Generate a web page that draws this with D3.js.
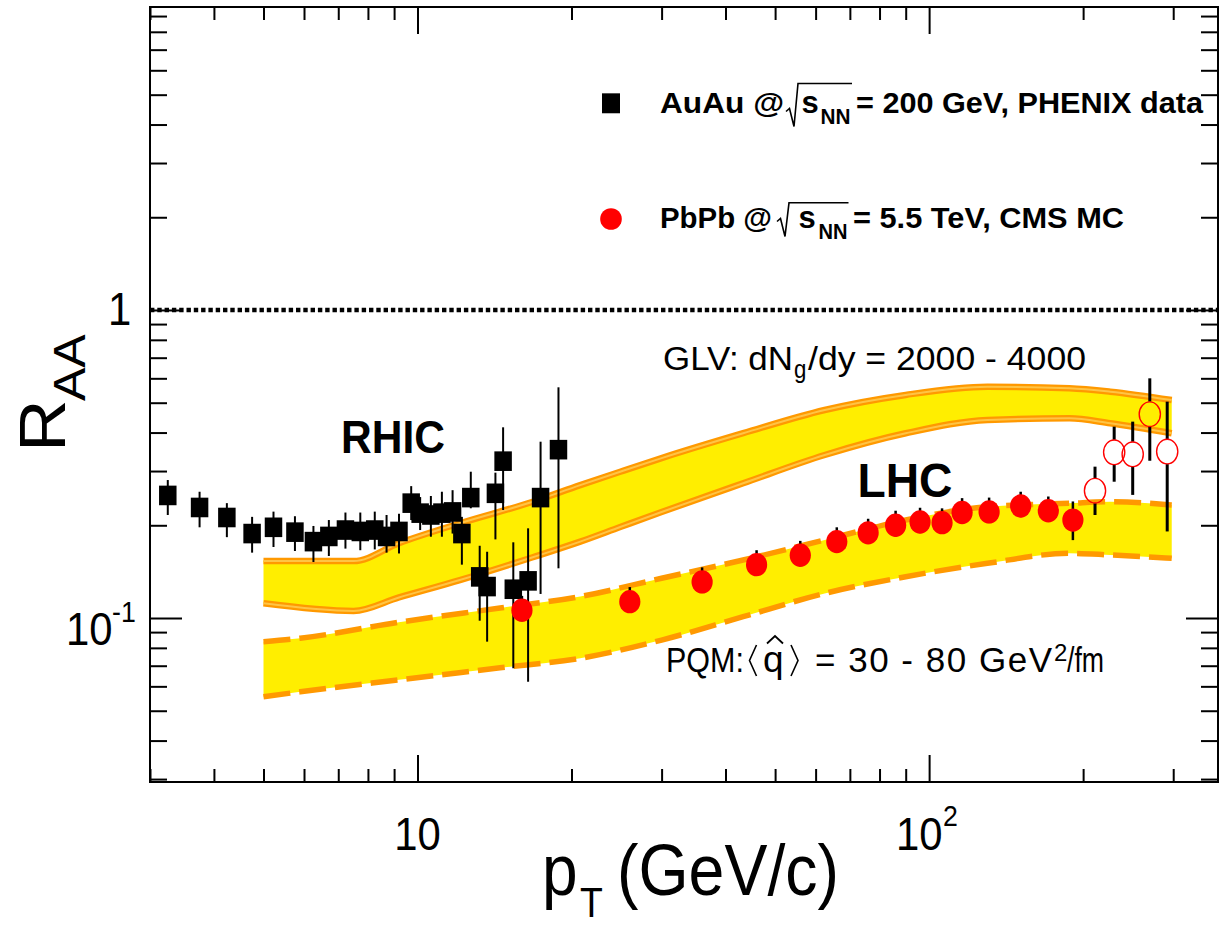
<!DOCTYPE html>
<html>
<head>
<meta charset="utf-8">
<script src="https://cdn.jsdelivr.net/npm/d3@7"></script>
<style>
  html, body { margin: 0; padding: 0; background: #fff; }
  svg { display: block; }
  text { font-family: "Liberation Sans", Arial, Helvetica, sans-serif; fill: #000; }
</style>
</head>
<body>
<svg id="chart" width="1220" height="927"></svg>
<script>
// ---- axis ranges and ticks ----
const xDomain = [3, 367];
const yDomain = [0.02935, 9.63];
const xMajorTicks = [10, 100];
const xMinorTicks = [3, 4, 5, 6, 7, 8, 9, 20, 30, 40, 50, 60, 70, 80, 90, 200, 300];
const yMajorTicks = [0.1, 1];
const yMinorTicks = [0.03, 0.04, 0.05, 0.06, 0.07, 0.08, 0.09,
                     0.2, 0.3, 0.4, 0.5, 0.6, 0.7, 0.8, 0.9,
                     2, 3, 4, 5, 6, 7, 8, 9];

// ---- PHENIX AuAu 200 GeV data (pT, R_AA, error band low/high) ----
const phenixPt  = [3.25, 3.75, 4.24, 4.75, 5.23, 5.76, 6.26, 6.71, 7.23, 7.73, 8.25, 8.70, 9.20, 9.72,
                   10.12, 10.62, 11.16, 11.71, 12.21, 12.71, 13.23, 13.68, 14.2, 14.7, 15.39, 16.45, 17.4, 18.86];
const phenixRaa = [0.250, 0.2285, 0.212, 0.188, 0.197, 0.190, 0.177, 0.184, 0.193, 0.191, 0.193, 0.184, 0.191, 0.236,
                   0.219, 0.216, 0.219, 0.221, 0.188, 0.246, 0.136, 0.1265, 0.254, 0.323, 0.124, 0.132, 0.246, 0.352];
const phenixHi  = [0.2805, 0.257, 0.236, 0.213, 0.2215, 0.214, 0.199, 0.208, 0.220, 0.220, 0.2215, 0.216, 0.218, 0.268,
                   0.247, 0.249, 0.257, 0.260, 0.213, 0.2985, 0.1716, 0.1641, 0.2964, 0.416, 0.1761, 0.1955, 0.3736, 0.561];
const phenixLo  = [0.216, 0.197, 0.183, 0.163, 0.170, 0.165, 0.152, 0.159, 0.168, 0.166, 0.167, 0.163, 0.162, 0.208,
                   0.193, 0.1836, 0.1836, 0.188, 0.149, 0.2271, 0.098, 0.0838, 0.180, 0.2242, 0.0687, 0.0621, 0.1197, 0.145];

// ---- CMS PbPb 5.5 TeV MC, filled points ----
const cmsPt  = [16, 26, 36, 46, 56, 66, 76, 86, 96, 106, 116, 131, 151, 171, 191];
const cmsRaa = [0.106, 0.113, 0.131, 0.149, 0.160, 0.177, 0.189, 0.200, 0.205, 0.204, 0.220, 0.221, 0.231, 0.223, 0.208];
const cmsHi  = [0.118, 0.126, 0.146, 0.166, 0.178, 0.197, 0.210, 0.223, 0.228, 0.227, 0.245, 0.246, 0.257, 0.248, 0.239];
const cmsLo  = [0.0975, 0.104, 0.1205, 0.137, 0.147, 0.163, 0.174, 0.184, 0.1886, 0.1877, 0.2024, 0.2033, 0.2125, 0.205, 0.179];

// ---- CMS PbPb 5.5 TeV MC, open points (high pT) ----
const cmsOpenPt  = [211, 230, 250, 270, 292];
const cmsOpenRaa = [0.259, 0.345, 0.340, 0.459, 0.347];
const cmsOpenHi  = [0.310, 0.418, 0.434, 0.600, 0.504];
const cmsOpenLo  = [0.216, 0.277, 0.251, 0.324, 0.191];

// ---- GLV band, dNg/dy = 2000 - 4000 ----
const glvPt   = [5, 7.5, 9.2, 12.1, 16.8, 20.8, 24.9, 30, 43.3, 62.5, 90, 130, 188, 226, 298];
const glvHigh = [0.153, 0.153, 0.175, 0.203, 0.2385, 0.270, 0.2985, 0.3305, 0.398, 0.4735, 0.530, 0.5636, 0.557, 0.543, 0.510];
const glvLow  = [0.1116, 0.1054, 0.1166, 0.1328, 0.1575, 0.1770, 0.1974, 0.2209, 0.2738, 0.3382, 0.3978, 0.4395, 0.4451, 0.4287, 0.3978];

// ---- PQM band, <qhat> = 30 - 80 GeV^2/fm ----
const pqmPt   = [5, 5.9, 9.2, 14.5, 20.8, 30, 43.3, 62.5, 90, 130, 188, 226, 298];
const pqmHigh = [0.0838, 0.0860, 0.0969, 0.1078, 0.1174, 0.1346, 0.1543, 0.1792, 0.2080, 0.2298, 0.2357, 0.2385, 0.2327];
const pqmLow  = [0.0555, 0.0576, 0.0630, 0.0689, 0.0740, 0.0848, 0.1010, 0.1202, 0.1362, 0.1505, 0.1622, 0.1602, 0.1563];

// ---- layout ----
const frame = { left: 150, right: 1218, top: 7, bottom: 782 };
const SX = 0.89;               // horizontal squeeze of glyphs and markers
const YELLOW = "#ffee00", ORANGE = "#ff9900", ORANGE_LIGHT = "#ffc444";

const svg = d3.select("#chart");
const x = d3.scaleLog().domain(xDomain).range([frame.left, frame.right]);
const y = d3.scaleLog().domain(yDomain).range([frame.bottom, frame.top]);

// ---- theory bands ----
function band(pt, lo, hi) {
  const idx = d3.range(pt.length);
  return {
    area: d3.area().curve(d3.curveMonotoneX)
      .x(i => x(pt[i])).y0(i => y(lo[i])).y1(i => y(hi[i]))(idx),
    upper: d3.line().curve(d3.curveMonotoneX).x(i => x(pt[i])).y(i => y(hi[i]))(idx),
    lower: d3.line().curve(d3.curveMonotoneX).x(i => x(pt[i])).y(i => y(lo[i]))(idx)
  };
}
const glv = band(glvPt, glvLow, glvHigh);
const pqm = band(pqmPt, pqmLow, pqmHigh);

const gBands = svg.append("g");
gBands.append("path").attr("d", glv.area).attr("fill", YELLOW);
[glv.upper, glv.lower].forEach(d => {
  gBands.append("path").attr("d", d).attr("fill", "none").attr("stroke", ORANGE).attr("stroke-width", 6.5);
  gBands.append("path").attr("d", d).attr("fill", "none").attr("stroke", ORANGE_LIGHT).attr("stroke-width", 2);
});
gBands.append("path").attr("d", pqm.area).attr("fill", YELLOW);
[pqm.upper, pqm.lower].forEach(d => {
  gBands.append("path").attr("d", d).attr("fill", "none").attr("stroke", ORANGE)
    .attr("stroke-width", 5.5).attr("stroke-dasharray", "27,9");
});

// ---- R_AA = 1 reference line ----
svg.append("line")
  .attr("x1", frame.left).attr("x2", frame.right)
  .attr("y1", y(1)).attr("y2", y(1))
  .attr("stroke", "#000").attr("stroke-width", 4.6).attr("stroke-dasharray", "4.4,2.9");

// ---- frame and ticks (all drawn inward) ----
function ticks(axisFn, scale, values, size, transform) {
  const g = svg.append("g").attr("transform", transform)
    .call(axisFn(scale).tickValues(values).tickSize(size).tickFormat(""));
  g.select(".domain").remove();
  g.selectAll("line").attr("stroke", "#000").attr("stroke-width", 2);
}
ticks(d3.axisBottom, x, xMinorTicks, -13, `translate(0,${frame.bottom})`);
ticks(d3.axisBottom, x, xMajorTicks, -27, `translate(0,${frame.bottom})`);
ticks(d3.axisTop, x, xMinorTicks, -13, `translate(0,${frame.top})`);
ticks(d3.axisTop, x, xMajorTicks, -27, `translate(0,${frame.top})`);
ticks(d3.axisLeft, y, yMinorTicks, -17, `translate(${frame.left},0)`);
ticks(d3.axisLeft, y, yMajorTicks, -32, `translate(${frame.left},0)`);
ticks(d3.axisRight, y, yMinorTicks, -17, `translate(${frame.right},0)`);
ticks(d3.axisRight, y, yMajorTicks, -32, `translate(${frame.right},0)`);
svg.append("rect")
  .attr("x", frame.left).attr("y", frame.top)
  .attr("width", frame.right - frame.left).attr("height", frame.bottom - frame.top)
  .attr("fill", "none").attr("stroke", "#000").attr("stroke-width", 2);

// ---- markers ----
const squarePath = d3.symbol().type(d3.symbolSquare).size(17.5 * 17.5)();
const circlePath = d3.symbol().type(d3.symbolCircle).size(Math.PI * 10.6 * 10.6)();
const OPEN_HALF_H = 12.5;

// PHENIX
const gPhenix = svg.append("g");
gPhenix.selectAll("line").data(d3.range(phenixPt.length)).join("line")
  .attr("x1", i => x(phenixPt[i])).attr("x2", i => x(phenixPt[i]))
  .attr("y1", i => y(phenixHi[i])).attr("y2", i => y(phenixLo[i]))
  .attr("stroke", "#000").attr("stroke-width", 2);
gPhenix.selectAll("path").data(d3.range(phenixPt.length)).join("path")
  .attr("d", squarePath)
  .attr("transform", i => `translate(${x(phenixPt[i])},${y(phenixRaa[i])}) scale(1,1.12)`)
  .attr("fill", "#000");

// CMS filled
const gCms = svg.append("g");
gCms.selectAll("line").data(d3.range(cmsPt.length)).join("line")
  .attr("x1", i => x(cmsPt[i])).attr("x2", i => x(cmsPt[i]))
  .attr("y1", i => y(cmsHi[i])).attr("y2", i => y(cmsLo[i]))
  .attr("stroke", "#000").attr("stroke-width", 2.5);
gCms.selectAll("path").data(d3.range(cmsPt.length)).join("path")
  .attr("d", circlePath)
  .attr("transform", i => `translate(${x(cmsPt[i])},${y(cmsRaa[i])}) scale(1,1.1)`)
  .attr("fill", "#ff0000");

// CMS open: error bars stop at the marker outline
const gOpen = svg.append("g");
d3.range(cmsOpenPt.length).forEach(i => {
  const cx = x(cmsOpenPt[i]), cy = y(cmsOpenRaa[i]);
  const top = y(cmsOpenHi[i]), bot = y(cmsOpenLo[i]);
  if (top < cy - OPEN_HALF_H)
    gOpen.append("line").attr("x1", cx).attr("x2", cx).attr("y1", top).attr("y2", cy - OPEN_HALF_H)
      .attr("stroke", "#000").attr("stroke-width", 3);
  if (bot > cy + OPEN_HALF_H)
    gOpen.append("line").attr("x1", cx).attr("x2", cx).attr("y1", cy + OPEN_HALF_H).attr("y2", bot)
      .attr("stroke", "#000").attr("stroke-width", 3);
  gOpen.append("path").attr("d", circlePath)
    .attr("transform", `translate(${cx},${cy}) scale(1,1.16)`)
    .attr("fill", "none").attr("stroke", "#ff0000").attr("stroke-width", 1.4)
    .attr("vector-effect", "non-scaling-stroke");
});

// ---- text helpers ----
function label(str, px, py, opts = {}) {
  const sx = opts.sx !== undefined ? opts.sx : SX;
  const t = svg.append("text")
    .attr("transform", `translate(${px},${py}) scale(${sx},1)` + (opts.rotate ? ` rotate(${opts.rotate})` : ""))
    .attr("font-size", opts.size || 30)
    .attr("font-weight", opts.bold ? "bold" : "normal")
    .attr("text-anchor", opts.anchor || "start")
    .text(str);
  if (opts.length) t.attr("textLength", opts.length / sx)
    .attr("lengthAdjust", opts.adjust || "spacingAndGlyphs");
  return t;
}

// axis tick labels
label("1", 108, y(1) + 15, { size: 47 });
label("10", 66, y(0.1) + 27, { size: 47 });
label("-1", 112, y(0.1) + 4, { size: 30 });
label("10", x(10), 850, { size: 47, anchor: "middle" });
label("10", x(100) - 33, 850, { size: 47 });
label("2", x(100) + 14, 826, { size: 30 });

// axis titles
label("R", 65, 452, { size: 73, rotate: -90 });
label("AA", 85, 401, { size: 50, rotate: -90 });
label("p", 542, 895, { size: 72 });
label("T", 580, 917, { size: 42 });
label("(GeV/c)", 617, 895, { size: 72, length: 222 });

// legend
svg.append("path").attr("d", squarePath)
  .attr("transform", "translate(611,103.3) scale(1.03,1.14)").attr("fill", "#000");
svg.append("path").attr("d", circlePath)
  .attr("transform", "translate(611,219) scale(1.02,1.02)").attr("fill", "#ff0000");

function radical(x0, yTop, yBot, x1) {
  svg.append("path")
    .attr("d", `M${x0},${yBot - 15} L${x0 + 3.5},${yBot - 18} L${x0 + 8},${yBot} L${x0 + 12},${yTop} L${x1},${yTop}`)
    .attr("fill", "none").attr("stroke", "#000").attr("stroke-width", 1.6);
}
label("AuAu @", 660, 113.3, { size: 30, bold: true, length: 124 });
radical(786, 83.5, 126.5, 852);
label("s", 801.5, 113.3, { size: 31, bold: true, sx: 1 });
label("NN", 820.5, 124, { size: 22, bold: true, length: 30 });
label("= 200 GeV, PHENIX data", 856, 113.3, { size: 30, bold: true, length: 347 });

label("PbPb @", 660, 228.3, { size: 30, bold: true, length: 112 });
radical(777, 202.8, 236.5, 848.5);
label("s", 798.5, 228.3, { size: 31, bold: true, sx: 1 });
label("NN", 818.5, 239, { size: 22, bold: true, length: 29 });
label("= 5.5 TeV, CMS MC", 853, 228.3, { size: 30, bold: true, length: 271 });

// collision system labels
label("RHIC", 341, 453.3, { size: 47, bold: true, length: 104 });
label("LHC", 857.5, 497, { size: 49, bold: true, length: 95 });

// model labels
label("GLV: dN", 663, 370, { size: 34, length: 130 });
label("g", 794, 378, { size: 25 });
label("/dy = 2000 - 4000", 808, 370, { size: 34, length: 278 });

label("PQM:", 666, 672, { size: 35, length: 78 });
svg.append("path").attr("d", "M756.5,645 L749.5,660.5 L756.5,676")
  .attr("fill", "none").attr("stroke", "#000").attr("stroke-width", 1.6);
label("q", 763, 672, { size: 37, sx: 1 });
svg.append("path").attr("d", "M767,643.5 L775,636 L783,643.5")
  .attr("fill", "none").attr("stroke", "#000").attr("stroke-width", 1.8);
svg.append("path").attr("d", "M791,645 L798,660.5 L791,676")
  .attr("fill", "none").attr("stroke", "#000").attr("stroke-width", 1.6);
label("= 30 - 80 GeV", 815, 672, { size: 35, sx: 1, length: 237, adjust: "spacing" });
label("2", 1054, 661, { size: 24, sx: 1 });
label("/fm", 1067, 672, { size: 35, length: 37 });
</script>
</body>
</html>
